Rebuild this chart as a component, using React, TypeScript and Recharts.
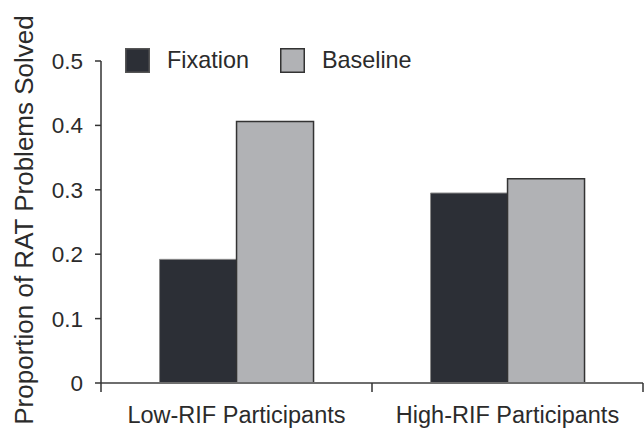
import React from "react";
import { BarChart, Bar, XAxis, YAxis, Label } from "recharts";

const categories = ["Low-RIF Participants", "High-RIF Participants"];
const fixation = [0.192, 0.295];
const baseline = [0.406, 0.317];
const yTicks = [0, 0.1, 0.2, 0.3, 0.4, 0.5];

const FONT = "'Liberation Sans', Arial, Helvetica, sans-serif";
const TEXT = "#2b2b2b";
const FIX_FILL = "#2c2f36";
const BASE_FILL = "#b1b2b5";

const series = [
  { key: "fixation", label: "Fixation", fill: FIX_FILL, stroke: "#8a8a8a", width: 1, swatchStroke: "#555" },
  { key: "baseline", label: "Baseline", fill: BASE_FILL, stroke: "#333", width: 1.5, swatchStroke: "#333" },
];

const data = categories.map((name, i) => ({
  name,
  fixation: fixation[i],
  baseline: baseline[i],
}));

// category label plus Excel-style tick marks on the category boundaries
function CategoryTick(props: any) {
  const { x, y, payload, index, visibleTicksCount, width } = props;
  const half =
    payload && payload.offset ? payload.offset : width / visibleTicksCount / 2;
  return (
    <g>
      <line x1={x - half} x2={x - half} y1={y - 9} y2={y} stroke="#333" strokeWidth={1.5} />
      {index === visibleTicksCount - 1 && (
        <line x1={x + half} x2={x + half} y1={y - 9} y2={y} stroke="#333" strokeWidth={1.5} />
      )}
      <text x={x} y={y + 31} textAnchor="middle" fill={TEXT} fontSize={23.5} fontFamily={FONT}>
        {payload.value}
      </text>
    </g>
  );
}

// legend drawn as an overlay so it doesn't push the plot area down
function ChartLegend() {
  return (
    <div
      style={{
        position: "absolute",
        left: 125,
        top: 48,
        display: "flex",
        alignItems: "center",
        fontFamily: FONT,
        fontSize: 23.4,
        color: TEXT,
        lineHeight: "25px",
      }}
    >
      {series.map((s, i) => (
        <div key={s.key} style={{ display: "flex", alignItems: "center", marginRight: i === 0 ? 31 : 0 }}>
          <svg width={25} height={25} style={{ marginRight: 17, display: "block" }}>
            <rect x={0.75} y={0.75} width={23.5} height={23.5} fill={s.fill} stroke={s.swatchStroke} strokeWidth={1.5} />
          </svg>
          <span>{s.label}</span>
        </div>
      ))}
    </div>
  );
}

export default function App() {
  return (
    <div style={{ position: "absolute", left: 0, top: 0, width: 644, height: 432, background: "#fff" }}>
      <BarChart
        width={644}
        height={432}
        data={data}
        margin={{ top: 61, right: 1, bottom: 0, left: 0 }}
        barCategoryGap="21.6%"
        barGap={0}
      >
        <XAxis
          dataKey="name"
          height={49}
          axisLine={{ stroke: "#6e6e6e", strokeWidth: 2 }}
          tickLine={false}
          tickSize={9}
          tickMargin={0}
          interval={0}
          tick={<CategoryTick />}
        />
        <YAxis
          width={101}
          domain={[0, 0.5]}
          ticks={yTicks}
          interval={0}
          axisLine={{ stroke: "#333", strokeWidth: 1.5 }}
          tickLine={{ stroke: "#333", strokeWidth: 1.5 }}
          tickSize={6}
          tickMargin={12}
          tickFormatter={(v: number) => (v === 0 ? "0" : v.toFixed(1))}
          tick={{ fill: TEXT, fontSize: 22.5, fontFamily: FONT }}
        >
          <Label
            content={(p: any) => {
              const vb = p.viewBox || { x: 0, y: 61, height: 322 };
              const cx = vb.x + 33;
              const cy = vb.y + vb.height / 2 - 2;
              return (
                <text
                  x={cx}
                  y={cy}
                  transform={`rotate(-90, ${cx}, ${cy})`}
                  textAnchor="middle"
                  fill={TEXT}
                  fontSize={26}
                  fontFamily={FONT}
                >
                  Proportion of RAT Problems Solved
                </text>
              );
            }}
          />
        </YAxis>
        {series.map((s) => (
          <Bar
            key={s.key}
            dataKey={s.key}
            name={s.label}
            fill={s.fill}
            stroke={s.stroke}
            strokeWidth={s.width}
            isAnimationActive={false}
          />
        ))}
      </BarChart>
      <ChartLegend />
    </div>
  );
}
